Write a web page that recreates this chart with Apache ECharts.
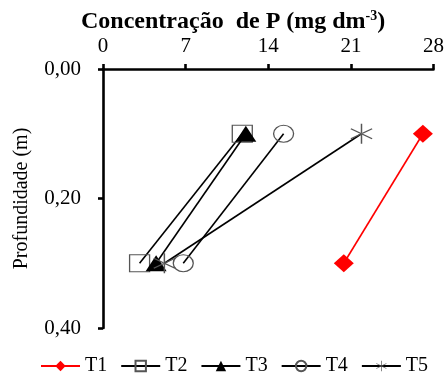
<!DOCTYPE html>
<html>
<head>
<meta charset="utf-8">
<script src="https://cdn.jsdelivr.net/npm/echarts@6/dist/echarts.min.js"></script>
<style>
html,body{margin:0;padding:0;background:#fff;}
#chart{width:447px;height:374px;}
</style>
</head>
<body>
<div id="chart"></div>
<script>
const depths = [0.1, 0.3];
const xTicks = [0, 7, 14, 21, 28];
const yTicks = [0, 0.2, 0.4];
const seriesNames = ['T1', 'T2', 'T3', 'T4', 'T5'];
const t1 = [27.1, 20.4];
const t2 = [11.8, 3.1];
const t3 = [12.1, 4.5];
const t4 = [15.3, 6.8];
const t5 = [21.9, 5.2];

const FONT = '"Liberation Serif", "Times New Roman", serif';
const asterisk = 'path://M-0.6,-10 L0.6,-10 L0.6,10 L-0.6,10 Z ' +
  'M-8.96,-4.48 L8.36,5.52 L8.96,4.48 L-8.36,-5.52 Z ' +
  'M-8.96,4.48 L-8.36,5.52 L8.96,-4.48 L8.36,-5.52 Z';

function pts(vals){ return vals.map((v,i)=>[v, depths[i]]); }

const styles = [
  {symbol:'diamond', size:[20,18], color:'#ff0000', fill:'#ff0000', border:'#ff0000', bw:0},
  {symbol:'rect', size:[20,17], color:'#000', fill:'rgba(255,255,255,0)', border:'#555', bw:1.2},
  {symbol:'triangle', size:[21,16], color:'#000', fill:'#000', border:'#000', bw:0},
  {symbol:'circle', size:[20,17], color:'#000', fill:'rgba(255,255,255,0)', border:'#555', bw:1.2},
  {symbol:asterisk, size:[22,20], color:'#000', fill:'#555', border:'#555', bw:0}
];
const allData = [t1, t2, t3, t4, t5];

const series = seriesNames.map((name, k) => ({
  name: name,
  type: 'line',
  data: pts(allData[k]),
  symbol: styles[k].symbol,
  symbolSize: styles[k].size,
  lineStyle: {color: styles[k].color, width: 1.6},
  itemStyle: {color: styles[k].fill, borderColor: styles[k].border, borderWidth: styles[k].bw},
  emphasis: {disabled: true},
  z: 2 + k
}));

const chart = echarts.init(document.getElementById('chart'), null, {renderer:'canvas'});
chart.setOption({
  animation: false,
  backgroundColor: '#fff',
  title: {
    text: 'Concentração  de P (mg dm{sup|-3})',
    left: 76,
    top: 4,
    textStyle: {
      fontFamily: FONT, fontWeight: 'bold', fontSize: 24, color: '#000',
      rich: {sup: {fontFamily: FONT, fontWeight: 'bold', fontSize: 14, color: '#000', verticalAlign: 'top', padding:[0,0,11,0]}}
    }
  },
  grid: {left: 103, right: 13, top: 69, bottom: 46, containLabel: false},
  xAxis: {
    type: 'value', position: 'top', min: xTicks[0], max: xTicks[xTicks.length-1], interval: 7,
    axisLine: {show: true, lineStyle: {color: '#000', width: 2.6}},
    axisTick: {show: true, length: 5, lineStyle: {color: '#000', width: 2.6}},
    axisLabel: {fontFamily: FONT, fontSize: 21, color: '#000', margin: 12},
    splitLine: {show: false}
  },
  yAxis: {
    type: 'value', inverse: true, min: yTicks[0], max: yTicks[yTicks.length-1], interval: 0.2,
    name: 'Profundidade (m)', nameLocation: 'middle', nameGap: 71,
    nameTextStyle: {fontFamily: FONT, fontSize: 20, color: '#000'},
    axisLine: {show: true, onZero: false, lineStyle: {color: '#000', width: 2.6}},
    axisTick: {show: true, length: 5, lineStyle: {color: '#000', width: 2.6}},
    axisLabel: {fontFamily: FONT, fontSize: 21, color: '#000', margin: 22,
      formatter: v => v.toFixed(2).replace('.', ',')},
    splitLine: {show: false}
  },
  legend: {
    data: seriesNames,
    left: 40, top: 356, padding: 0,
    itemWidth: 39, itemHeight: 13, itemGap: 13,
    textStyle: {fontFamily: FONT, fontSize: 20, color: '#000'},
    selectedMode: false
  },
  series: series
});
</script>
</body>
</html>
